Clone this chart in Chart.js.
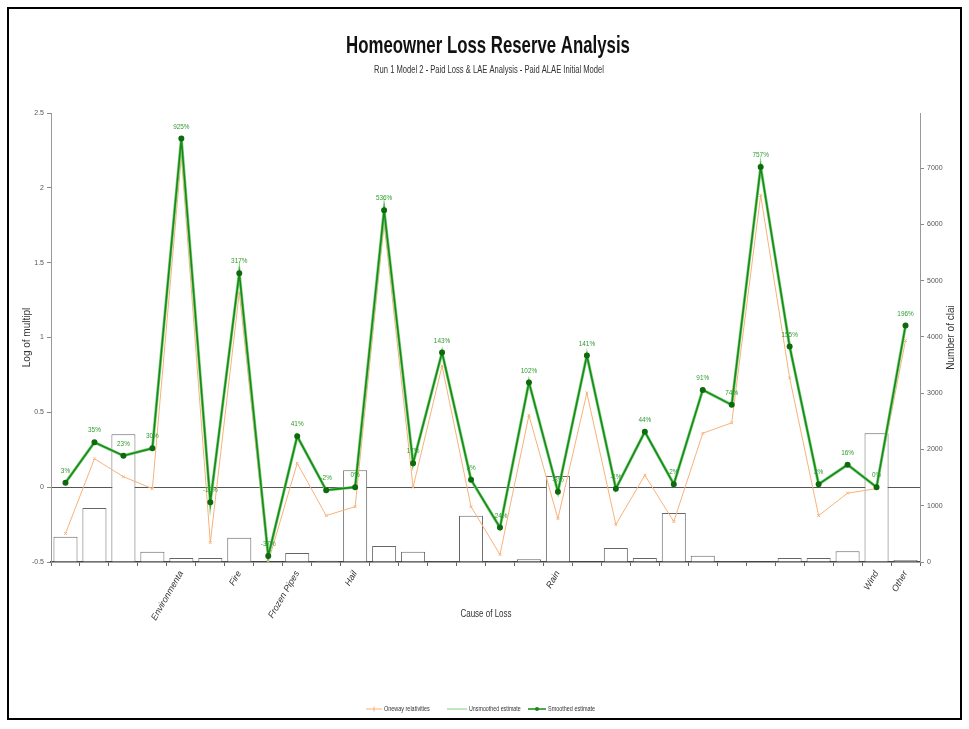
<!DOCTYPE html>
<html>
<head>
<meta charset="utf-8">
<title>Homeowner Loss Reserve Analysis</title>
<script src="https://cdn.jsdelivr.net/npm/chart.js@4.4.1/dist/chart.umd.min.js"></script>
<style>
  html, body { margin: 0; padding: 0; background: #fff; }
  #wrap { position: relative; width: 969px; height: 729px; }
  #frame { position: absolute; left: 7px; top: 7px; width: 951px; height: 709px; border: 2px solid #000; pointer-events: none; }
  canvas { position: absolute; left: 0; top: 0; }
</style>
</head>
<body>
<div id="wrap">
  <canvas id="lossChart" width="969" height="729"></canvas>
  <div id="frame"></div>
</div>
<script>
// categorias (so algumas tem nome visivel no eixo)
const causes = ['', '', '', '', 'Environmenta', '', 'Fire', '', 'Frozen Pipes', '', 'Hail', '', '', '', '', '', '', 'Rain', '', '', '', '', '', '', '', '', '', '', 'Wind', 'Other'];

// numero de sinistros (eixo direito)
const claimCounts = [450, 960, 2270, 180, 70, 70, 430, 10, 160, 20, 1630, 285, 180, 15, 820, 15, 50, 1530, 10, 250, 70, 870, 110, 15, 0, 70, 70, 190, 2290, 35];

// log dos multiplicadores
const onewayRel = [-0.31, 0.19, 0.07, -0.01, 2.21, -0.37, 1.30, -0.50, 0.16, -0.19, -0.13, 1.76, 0.0, 0.81, -0.13, -0.45, 0.48, -0.21, 0.63, -0.25, 0.08, -0.23, 0.36, 0.43, 1.95, 0.73, -0.19, -0.04, -0.01, 0.98];
const unsmoothedEst = [0.03, 0.30, 0.21, 0.26, 2.33, -0.10, 1.43, -0.46, 0.34, -0.02, 0.0, 1.85, 0.16, 0.90, 0.05, -0.27, 0.70, -0.03, 0.88, -0.01, 0.37, 0.02, 0.65, 0.55, 2.14, 0.94, 0.02, 0.15, 0.0, 1.08];
const smoothedEst = [0.03, 0.30, 0.21, 0.26, 2.33, -0.10, 1.43, -0.46, 0.34, -0.02, 0.0, 1.85, 0.16, 0.90, 0.05, -0.27, 0.70, -0.03, 0.88, -0.01, 0.37, 0.02, 0.65, 0.55, 2.14, 0.94, 0.02, 0.15, 0.0, 1.08];
const smoothedPct = ['3%', '35%', '23%', '30%', '925%', '-10%', '317%', '-37%', '41%', '-2%', '0%', '536%', '17%', '143%', '5%', '-24%', '102%', '-3%', '141%', '-1%', '44%', '2%', '91%', '74%', '757%', '155%', '2%', '16%', '0%', '196%'];

const leftTicks = [-0.5, 0, 0.5, 1, 1.5, 2, 2.5];
const rightTicks = [0, 1000, 2000, 3000, 4000, 5000, 6000, 7000];

const ORANGE = '#f7b27a';
const LIGHT_GREEN = '#7fd07f';
const DARK_GREEN = '#178a17';
const SANS = '"Liberation Sans", Arial, sans-serif';

// texto "estreito": escala horizontal (nao ha fonte narrow instalada)
function narrowText(ctx, text, x, y, sx) {
  ctx.save();
  ctx.translate(x, y);
  ctx.scale(sx, 1);
  ctx.fillText(text, 0, 0);
  ctx.restore();
}

// textos desenhados a mao: titulos, rotulos de %, legenda
const textPlugin = {
  id: 'textPlugin',
  afterDatasetsDraw(chart) {
    const ctx = chart.ctx;
    const area = chart.chartArea;
    ctx.save();

    // rotulos de percentagem acima da curva suavizada
    const meta = chart.getDatasetMeta(3);
    ctx.fillStyle = '#2f9a2f';
    ctx.font = '8px ' + SANS;
    ctx.textAlign = 'center';
    ctx.textBaseline = 'bottom';
    meta.data.forEach((pt, i) => {
      narrowText(ctx, smoothedPct[i], pt.x, pt.y - 8, 0.8);
    });

    // titulo
    ctx.fillStyle = '#111';
    ctx.textBaseline = 'middle';
    ctx.font = 'bold 24px ' + SANS;
    narrowText(ctx, 'Homeowner Loss Reserve Analysis', 488, 46, 0.7);
    ctx.fillStyle = '#333';
    ctx.font = '10px ' + SANS;
    narrowText(ctx, 'Run 1 Model 2 - Paid Loss & LAE Analysis - Paid ALAE Initial Model', 489, 70, 0.76);

    // titulo eixo x
    ctx.fillStyle = '#333';
    ctx.font = '10px ' + SANS;
    narrowText(ctx, 'Cause of Loss', 486, 614, 0.8);

    // titulos eixos y (ambos de baixo para cima)
    const midY = (area.top + area.bottom) / 2;
    ctx.font = '10px ' + SANS;
    ctx.save();
    ctx.translate(27, midY);
    ctx.rotate(-Math.PI / 2);
    ctx.fillText('Log of multipl', 0, 0);
    ctx.restore();
    ctx.save();
    ctx.translate(951, midY);
    ctx.rotate(-Math.PI / 2);
    ctx.fillText('Number of clai', 0, 0);
    ctx.restore();

    // legenda
    ctx.font = '7px ' + SANS;
    ctx.textAlign = 'left';
    ctx.fillStyle = '#333';
    const ly = 709;
    let lx = 366;
    ctx.strokeStyle = ORANGE;
    ctx.lineWidth = 1;
    ctx.beginPath(); ctx.moveTo(lx, ly); ctx.lineTo(lx + 16, ly); ctx.stroke();
    ctx.beginPath(); ctx.moveTo(lx + 8, ly - 2.5); ctx.lineTo(lx + 8, ly + 2.5); ctx.stroke();
    narrowText(ctx, 'Oneway relativities', lx + 18, ly, 0.78);
    lx = 447;
    ctx.strokeStyle = LIGHT_GREEN;
    ctx.beginPath(); ctx.moveTo(lx, ly); ctx.lineTo(lx + 20, ly); ctx.stroke();
    narrowText(ctx, 'Unsmoothed estimate', lx + 22, ly, 0.76);
    lx = 528;
    ctx.strokeStyle = DARK_GREEN;
    ctx.lineWidth = 1.5;
    ctx.beginPath(); ctx.moveTo(lx, ly); ctx.lineTo(lx + 18, ly); ctx.stroke();
    ctx.fillStyle = DARK_GREEN;
    ctx.beginPath(); ctx.arc(lx + 9, ly, 2, 0, Math.PI * 2); ctx.fill();
    ctx.fillStyle = '#333';
    narrowText(ctx, 'Smoothed estimate', lx + 20, ly, 0.78);

    ctx.restore();
  }
};

const tickFont = { family: SANS, size: 7 };

new Chart(document.getElementById('lossChart'), {
  data: {
    labels: causes,
    datasets: [
      {
        type: 'bar',
        label: 'Number of claims',
        data: claimCounts,
        yAxisID: 'y1',
        backgroundColor: '#fff',
        borderColor: '#666',
        borderWidth: 1,
        barPercentage: 0.83,
        categoryPercentage: 1,
        order: 4
      },
      {
        type: 'line',
        label: 'Oneway relativities',
        data: onewayRel,
        yAxisID: 'y',
        borderColor: ORANGE,
        borderWidth: 1,
        pointStyle: 'crossRot',
        pointRadius: 2,
        pointBorderColor: ORANGE,
        pointBackgroundColor: ORANGE,
        tension: 0,
        order: 3
      },
      {
        type: 'line',
        label: 'Unsmoothed estimate',
        data: unsmoothedEst,
        yAxisID: 'y',
        borderColor: LIGHT_GREEN,
        borderWidth: 3,
        pointRadius: 0,
        tension: 0,
        order: 2
      },
      {
        type: 'line',
        label: 'Smoothed estimate',
        data: smoothedEst,
        yAxisID: 'y',
        borderColor: DARK_GREEN,
        borderWidth: 1.6,
        pointRadius: 2.2,
        pointBackgroundColor: '#0d6a0d',
        pointBorderColor: '#0d6a0d',
        tension: 0,
        order: 1
      }
    ]
  },
  options: {
    responsive: false,
    animation: false,
    layout: { padding: { left: 0, right: 0, top: 113, bottom: 87 } },
    plugins: {
      legend: { display: false },
      title: { display: false },
      tooltip: { enabled: false }
    },
    scales: {
      x: {
        offset: true,
        afterFit: (s) => { s.height = 80; },
        border: { color: '#444', width: 1.5 },
        grid: { offset: true, drawOnChartArea: false, tickLength: 4, color: '#666' },
        ticks: {
          autoSkip: false,
          minRotation: 60,
          maxRotation: 60,
          color: '#333',
          font: { family: SANS, size: 9, style: 'italic' }
        }
      },
      y: {
        position: 'left',
        min: -0.5,
        max: 2.5,
        afterFit: (s) => { s.width = 51; },
        afterBuildTicks: (s) => { s.ticks = leftTicks.map(v => ({ value: v })); },
        border: { color: '#999', width: 1 },
        grid: {
          tickLength: 4,
          color: (c) => (c.tick && c.tick.value === 0 ? '#555' : 'rgba(0,0,0,0)'),
          tickColor: '#888',
          lineWidth: 1
        },
        ticks: { color: '#555', font: tickFont, padding: 3, callback: (v) => String(v) }
      },
      y1: {
        position: 'right',
        min: 0,
        max: 7980,
        afterFit: (s) => { s.width = 49; },
        afterBuildTicks: (s) => { s.ticks = rightTicks.map(v => ({ value: v })); },
        border: { color: '#999', width: 1 },
        grid: { drawOnChartArea: false, tickLength: 4, color: '#888' },
        ticks: { color: '#555', font: tickFont, padding: 3, callback: (v) => String(v) }
      }
    }
  },
  plugins: [textPlugin]
});
</script>
</body>
</html>
